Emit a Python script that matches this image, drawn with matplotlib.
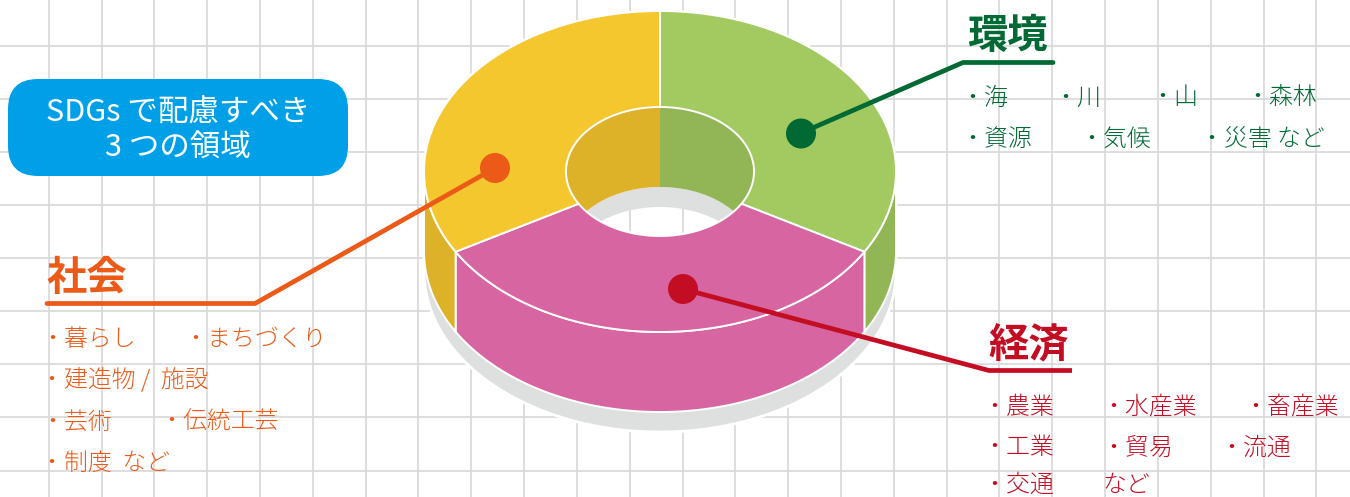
import numpy as np
import matplotlib
matplotlib.use("Agg")
import matplotlib.pyplot as plt
from matplotlib.patches import Polygon, PathPatch, FancyBboxPatch, Circle, Ellipse
from matplotlib.path import Path

plt.rcParams['font.family'] = ['Noto Sans CJK JP', 'DejaVu Sans']

# wedges, clockwise from 12 o'clock
categories = ["環境", "経済", "社会"]
shares = [1, 1, 1]
top_colors = ["#A2CA60", "#D665A1", "#F4C72F"]
wall_colors = ["#92B656", "#D665A1", "#DDB228"]
inner_colors = ["#92B656", "#D665A1", "#DDB228"]
text_colors = ["#006934", "#C30D23", "#EB5A17"]

env_labels = ["・海", "・川", "・山", "・森林", "・資源", "・気候", "・災害 など"]
soc_labels = ["・暮らし", "・まちづくり", "・建造物 /  施設", "・芸術", "・伝統工芸", "・制度  など"]
eco_labels = ["・農業", "・水産業", "・畜産業", "・工業", "・貿易", "・流通", "・交通", "など"]
box_lines = ["SDGs で配慮すべき", "3 つの領域"]

GRID = "#D9D9D9"
SHADOW = "#DEE0DF"
BLUE = "#00A0E9"

CX, CY = 660, 171.5
RX, RY = 236, 160.5
IRX, IRY = 94, 64.5
DEPTH = 80
SHADOW_D = 100

fig = plt.figure(figsize=(13.5, 4.97), dpi=100)
ax = fig.add_axes([0, 0, 1, 1])
ax.set_xlim(0, 1350)
ax.set_ylim(497, 0)
ax.axis("off")


def arc(a1, a2, rx, ry, dy=0, n=120):
    t = np.radians(np.linspace(a1, a2, n))
    return np.column_stack([CX + rx * np.sin(t), CY - ry * np.cos(t) + dy])


# grid paper
for x in np.arange(48.7, 1350, 52.82):
    ax.axvline(x, color=GRID, lw=1.25, zorder=1)
for y in np.arange(45.7, 497, 53.1):
    ax.axhline(y, color=GRID, lw=1.25, zorder=1)

# shadow under the ring, with the hole left open
outer = np.vstack([arc(-90, 90, RX, RY), arc(90, 270, RX, RY, SHADOW_D)])
hole = arc(0, -360, IRX, IRY)
verts = np.vstack([outer, outer[:1], hole, hole[:1]])
codes = ([Path.MOVETO] + [Path.LINETO] * (len(outer) - 1) + [Path.CLOSEPOLY]
         + [Path.MOVETO] + [Path.LINETO] * (len(hole) - 1) + [Path.CLOSEPOLY])
ax.add_patch(PathPatch(Path(verts, codes), fc=SHADOW, ec="white", lw=2, zorder=2))

hole_clip = Ellipse((CX, CY), IRX * 2, IRY * 2, transform=ax.transData)
ax.add_patch(hole_clip)
hole_clip.set_visible(False)

# grey shadow seen through the hole
band = Polygon(np.vstack([arc(-90, 90, IRX, IRY, DEPTH), arc(90, -90, IRX, IRY, SHADOW_D)]),
               fc=SHADOW, ec="none", zorder=3)
ax.add_patch(band)
band.set_clip_path(hole_clip)

angles = np.cumsum([0] + shares) / sum(shares) * 360

for i in range(len(categories)):
    a1, a2 = angles[i], angles[i + 1]

    # inner back wall, only the part above the hole's far edge
    if a1 < 90 or a2 > 270:
        if a1 < 90:
            b1, b2 = 0, 90
        else:
            b1, b2 = 270, 360
        wall = Polygon(np.vstack([arc(b1, b2, IRX, IRY), arc(b2, b1, IRX, IRY, DEPTH)]),
                       fc=inner_colors[i], ec="none", zorder=4)
        ax.add_patch(wall)
        wall.set_clip_path(hole_clip)

    # outer front wall
    c1, c2 = max(a1, 90), min(a2, 270)
    if c2 > c1:
        ax.add_patch(Polygon(np.vstack([arc(c1, c2, RX, RY), arc(c2, c1, RX, RY, DEPTH)]),
                             fc=wall_colors[i], ec="white", lw=1.4, joinstyle="round", zorder=5))

for i in range(len(categories)):
    a1, a2 = angles[i], angles[i + 1]
    ax.add_patch(Polygon(np.vstack([arc(a1, a2, RX, RY), arc(a2, a1, IRX, IRY)]),
                         fc=top_colors[i], ec="white", lw=1.4, joinstyle="round", zorder=6))

# leaders
ax.plot([801, 963, 1053], [133, 62.5, 62.5], color=text_colors[0], lw=3.4,
        solid_capstyle="round", solid_joinstyle="round", zorder=8)
ax.plot([683, 989, 1072], [289, 370.5, 370.5], color=text_colors[1], lw=3.4,
        solid_capstyle="butt", solid_joinstyle="round", zorder=8)
ax.plot([495, 255, 47], [168, 303.5, 303.5], color=text_colors[2], lw=3.4,
        solid_capstyle="round", solid_joinstyle="round", zorder=8)
ax.add_patch(Circle((801, 133.5), 15, fc=text_colors[0], ec="none", zorder=9))
ax.add_patch(Circle((683, 289), 15, fc=text_colors[1], ec="none", zorder=9))
ax.add_patch(Circle((495, 168), 15, fc=text_colors[2], ec="none", zorder=9))

# headings
ax.text(1007, 37, categories[0], color=text_colors[0], fontsize=29, fontweight="bold",
        ha="center", va="center", zorder=10)
ax.text(1029, 345, categories[1], color=text_colors[1], fontsize=29, fontweight="bold",
        ha="center", va="center", zorder=10)
ax.text(87, 278, categories[2], color=text_colors[2], fontsize=29, fontweight="bold",
        ha="center", va="center", zorder=10)

# item lists
env_x = [960, 1053, 1150, 1245, 960, 1079, 1200]
env_y = [98, 98, 98, 98, 139, 139, 139]
soc_x = [40, 183, 40, 40, 159, 40]
soc_y = [339, 339, 381, 422, 422, 463]
eco_x = [982, 1101, 1243, 982, 1101, 1219, 982, 1102]
eco_y = [407, 407, 407, 448, 448, 448, 485, 485]
for labels, xs, ys, col in [(env_labels, env_x, env_y, text_colors[0]),
                            (soc_labels, soc_x, soc_y, text_colors[2]),
                            (eco_labels, eco_x, eco_y, text_colors[1])]:
    for s, x, y in zip(labels, xs, ys):
        ax.text(x, y, s, color=col, fontsize=17.2, fontweight="light", ha="left", va="center", zorder=10)

# title box
ax.add_patch(FancyBboxPatch((38, 109), 280, 37, boxstyle="round,pad=30,rounding_size=30",
                            fc=BLUE, ec="none", zorder=7))
ax.text(178, 112, box_lines[0], color="white", fontsize=22, ha="center", va="center", zorder=10)
ax.text(178, 147, box_lines[1], color="white", fontsize=22, ha="center", va="center", zorder=10)

fig.savefig("out.png", dpi=100)
